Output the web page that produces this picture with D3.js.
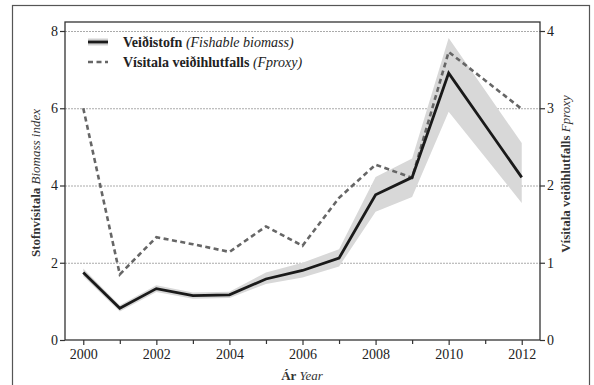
<!DOCTYPE html>
<html><head><meta charset="utf-8">
<script src="https://cdn.jsdelivr.net/npm/d3@7"></script>
<style>body{margin:0;background:#fff}svg{display:block}svg text{font-family:"Liberation Serif","Times New Roman","DejaVu Serif",serif !important}</style>
</head><body><svg id="c" width="594" height="385"></svg>
<script>
const years = [2000,2001,2002,2003,2004,2005,2006,2007,2008,2009,2010,2011,2012];
const biomass = [1.75,0.82,1.33,1.15,1.17,1.58,1.80,2.12,3.76,4.21,6.91,5.56,4.21];
const biomassLow = [1.65,0.74,1.24,1.07,1.09,1.45,1.62,1.90,3.32,3.70,5.91,4.73,3.55];
const biomassHigh = [1.85,0.90,1.42,1.23,1.25,1.75,2.00,2.35,4.22,4.70,7.82,6.46,5.10];
const fproxy = [3.00,0.85,1.33,1.24,1.14,1.47,1.22,1.84,2.27,2.10,3.73,3.36,2.99];
const xTicks = [2000,2002,2004,2006,2008,2010,2012];
const xMinor = [2001,2003,2005,2007,2009,2011];
const leftTicks = [0,2,4,6,8];
const rightTicks = [0,1,2,3,4];

const FONT = '"Liberation Serif","Times New Roman","DejaVu Serif",serif';
const svg = d3.select('#c');
const L=65,R=540,T=22,B=340;
const x = d3.scaleLinear().domain([1999.5,2012.5]).range([L,R]);
const yL = d3.scaleLinear().domain([0,8]).range([B,31]);
const yR = d3.scaleLinear().domain([0,4]).range([B,31]);

// outer border
svg.append('rect').attr('x',12.5).attr('y',5.5).attr('width',577).attr('height',390)
  .attr('fill','none').attr('stroke','#555').attr('stroke-width',1.2);

// gridlines
svg.append('g').selectAll('line').data(leftTicks.filter(d=>d>0)).join('line')
  .attr('x1',L).attr('x2',R).attr('y1',d=>yL(d)+0.5).attr('y2',d=>yL(d)+0.5)
  .attr('stroke','#aaa').attr('stroke-width',1).attr('stroke-dasharray','2,1');

// band
const data = years.map((y,i)=>({y,b:biomass[i],lo:biomassLow[i],hi:biomassHigh[i],f:fproxy[i]}));
svg.append('path').datum(data)
  .attr('d',d3.area().x(d=>x(d.y)).y0(d=>yL(d.lo)).y1(d=>yL(d.hi)))
  .attr('fill','#d8d8d8');

// fproxy dashed
svg.append('path').datum(data)
  .attr('d',d3.line().x(d=>x(d.y)).y(d=>yR(d.f)))
  .attr('fill','none').attr('stroke','#666').attr('stroke-width',2.6).attr('stroke-dasharray','5,3.5');

// biomass line
svg.append('path').datum(data)
  .attr('d',d3.line().x(d=>x(d.y)).y(d=>yL(d.b)))
  .attr('fill','none').attr('stroke','#1a1a1a').attr('stroke-width',2.8).attr('stroke-linejoin','miter');

// frame
svg.append('rect').attr('x',L).attr('y',T).attr('width',R-L).attr('height',B-T)
  .attr('fill','none').attr('stroke','#333').attr('stroke-width',1.3);

// axes
const ax = svg.append('g').attr('transform',`translate(0,${B})`)
  .call(d3.axisBottom(x).tickValues(xTicks).tickFormat(d3.format('d')).tickSize(5).tickPadding(4));
svg.append('g').attr('transform',`translate(0,${B})`)
  .call(d3.axisBottom(x).tickValues(xMinor).tickFormat('').tickSize(4))
  .call(g=>g.select('.domain').remove());
const al = svg.append('g').attr('transform',`translate(${L},0)`)
  .call(d3.axisLeft(yL).tickValues(leftTicks).tickFormat(d3.format('d')).tickSize(5).tickPadding(2));
const ar = svg.append('g').attr('transform',`translate(${R},0)`)
  .call(d3.axisRight(yR).tickValues(rightTicks).tickFormat(d3.format('d')).tickSize(5).tickPadding(2));
[ax,al,ar].forEach(g=>{
  g.attr('font-family',FONT).select('.domain').remove();
  g.selectAll('text').attr('font-size',14).attr('fill','#222').attr('font-family',FONT);
});
svg.selectAll('.tick line').attr('stroke','#333').attr('stroke-width',1.2);

// axis titles
const xt = svg.append('text').attr('x',302).attr('y',380).attr('text-anchor','middle').attr('font-size',13).attr('fill','#333').attr('font-family',FONT);
xt.append('tspan').attr('font-weight','bold').text('Ár ');
xt.append('tspan').attr('font-style','italic').text('Year');

const ylt = svg.append('text').attr('transform','translate(40,183) rotate(-90)').attr('text-anchor','middle').attr('font-size',13).attr('fill','#333').attr('font-family',FONT);
ylt.append('tspan').attr('font-weight','bold').text('Stofnvísitala ');
ylt.append('tspan').attr('font-style','italic').text('Biomass index');

const yrt = svg.append('text').attr('transform','translate(570,174) rotate(-90)').attr('text-anchor','middle').attr('font-size',13).attr('fill','#333').attr('font-family',FONT);
yrt.append('tspan').attr('font-weight','bold').text('Vísitala veiðihlutfalls ');
yrt.append('tspan').attr('font-style','italic').text('Fproxy');

// legend
const lg = svg.append('g').attr('font-family',FONT);
lg.append('line').attr('x1',88).attr('x2',108).attr('y1',42).attr('y2',42).attr('stroke','#d0d0d0').attr('stroke-width',7);
lg.append('line').attr('x1',88).attr('x2',108).attr('y1',42).attr('y2',42).attr('stroke','#1a1a1a').attr('stroke-width',2.8);
lg.append('line').attr('x1',88).attr('x2',108).attr('y1',62).attr('y2',62).attr('stroke','#666').attr('stroke-width',2.6).attr('stroke-dasharray','5,3.5');
const t1 = lg.append('text').attr('x',123).attr('y',46.5).attr('font-size',14).attr('fill','#222');
t1.append('tspan').attr('font-weight','bold').text('Veiðistofn ');
t1.append('tspan').attr('font-style','italic').text('(Fishable biomass)');
const t2 = lg.append('text').attr('x',123).attr('y',66.5).attr('font-size',14).attr('fill','#222');
t2.append('tspan').attr('font-weight','bold').text('Vísitala veiðihlutfalls ');
t2.append('tspan').attr('font-style','italic').text('(Fproxy)');
</script></body></html>
